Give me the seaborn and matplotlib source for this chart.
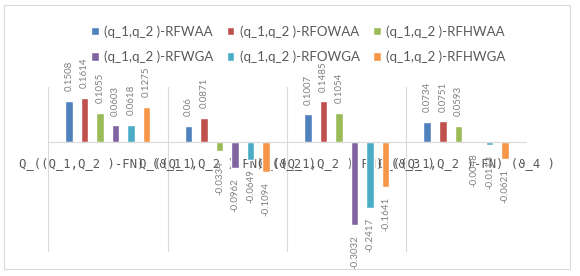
import numpy as np
import pandas as pd
import matplotlib
matplotlib.use("Agg")
import matplotlib.pyplot as plt
from matplotlib.patches import Rectangle
import seaborn as sns

# ----------------------------------------------------------
# Data
# ----------------------------------------------------------
groups = ["Q_((Q_1,Q_2 )-FN) (ϑ_1 )", "Q_((Q_1,Q_2 )-FN) (ϑ_2 )",
          "Q_((Q_1,Q_2 )-FN) (ϑ_3 )", "Q_((Q_1,Q_2 )-FN) (ϑ_4 )"]

series = ["(q_1,q_2 )-RFWAA", "(q_1,q_2 )-RFOWAA", "(q_1,q_2 )-RFHWAA",
          "(q_1,q_2 )-RFWGA", "(q_1,q_2 )-RFOWGA", "(q_1,q_2 )-RFHWGA"]

rfwaa = [0.1508, 0.06, 0.1007, 0.0734]
rfowaa = [0.1614, 0.0871, 0.1485, 0.0751]
rfhwaa = [0.1055, -0.0334, 0.1054, 0.0593]
rfwga = [0.0603, -0.0962, -0.3032, -0.0048]
rfowga = [0.0618, -0.0649, -0.2417, -0.0113]
rfhwga = [0.1275, -0.1094, -0.1641, -0.0621]

colors = ["#4F81BD", "#C0504D", "#9BBB59", "#8064A2", "#4BACC6", "#F79646"]

df = pd.DataFrame({
    "group": groups * 6,
    "series": np.repeat(series, 4),
    "value": rfwaa + rfowaa + rfhwaa + rfwga + rfowga + rfhwga,
})

# ----------------------------------------------------------
# Plot
# ----------------------------------------------------------
sns.set_style("white")
plt.rcParams["font.family"] = ["Lato", "DejaVu Sans"]

fig = plt.figure(figsize=(5.8, 2.76), dpi=100)
ax = fig.add_axes([0.0828, 0.0884, 0.824, 0.5957])

sns.barplot(data=df, x="group", y="value", hue="series",
            hue_order=series, palette=colors,
            width=0.78, gap=0.5, saturation=1, ax=ax, legend=True)

ax.set_ylim(-0.4, 0.2)
ax.set_xlim(-0.5, 3.5)

# category separators
for xb in np.arange(-0.5, 4, 1):
    ax.axvline(xb, color="#d9d9d9", lw=0.8, zorder=0)

# data labels
for c in ax.containers:
    ax.bar_label(c, fmt=lambda v: f"{v:g}", rotation=90, padding=7,
                 fontsize=7, color="#808080")

# axes styling
for s in ["top", "right", "left"]:
    ax.spines[s].set_visible(False)
ax.spines["bottom"].set_position(("data", 0))
ax.spines["bottom"].set_color("#d9d9d9")
ax.spines["bottom"].set_linewidth(0.8)
ax.set_yticks([])
ax.set_xlabel("")
ax.set_ylabel("")
ax.tick_params(axis="x", length=0, pad=11)
ax.set_xticks(range(len(groups)))
ax.set_xticklabels(groups, family=["DejaVu Sans Mono", "DejaVu Sans"],
                   fontsize=8.8, color="#595959")

# legend (row-major order like the original)
handles, labels = ax.get_legend_handles_labels()
ax.legend_.remove()
order = [0, 3, 1, 4, 2, 5]
fig.legend([handles[i] for i in order], [labels[i] for i in order],
           ncol=3, loc="center", bbox_to_anchor=(0.514, 0.84),
           frameon=False, fontsize=9.5, labelcolor="#595959",
           handlelength=0.6, handleheight=0.6, handletextpad=0.4,
           columnspacing=1.0, labelspacing=1.0, borderpad=0)

# chart border
fig.patches.append(Rectangle((4 / 580, 1 - 269 / 276), 566 / 580, 264 / 276,
                             transform=fig.transFigure, fill=False,
                             edgecolor="#d9d9d9", lw=0.8))

fig.savefig("out.png", dpi=100)
